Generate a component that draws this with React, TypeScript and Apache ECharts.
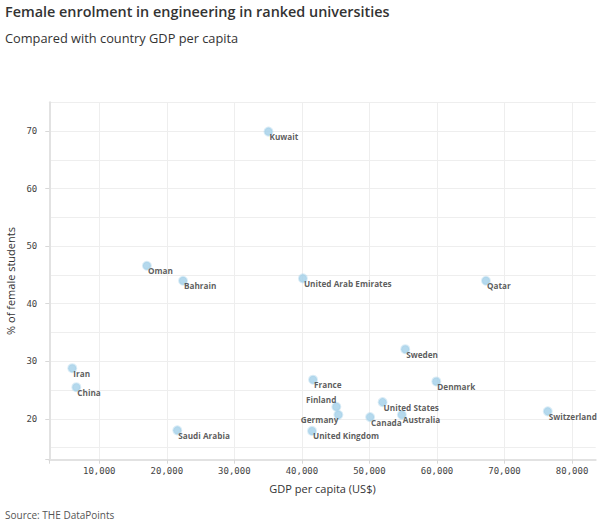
import React, { useEffect, useRef } from "react";
import * as echarts from "echarts";

const countries = [
  "Kuwait", "Oman", "Bahrain", "United Arab Emirates", "Qatar", "Sweden",
  "France", "Denmark", "Finland", "Germany", "United States", "Canada",
  "Australia", "United Kingdom", "Switzerland", "Iran", "China", "Saudi Arabia",
];
const gdpPerCapita = [
  35050, 17050, 22400, 40150, 67250, 55300,
  41650, 59900, 45100, 45400, 51950, 50100,
  54800, 41500, 76400, 6000, 6600, 21550,
];
const femaleShare = [
  69.9, 46.6, 44.0, 44.4, 44.0, 32.1,
  26.8, 26.5, 22.1, 20.7, 22.9, 20.3,
  20.7, 17.9, 21.3, 28.8, 25.5, 18.0,
];
const xTickValues = [10000, 20000, 30000, 40000, 50000, 60000, 70000, 80000];
const yLabelValues = [20, 30, 40, 50, 60, 70];
const yGridValues = [15, 20, 25, 30, 35, 40, 45, 50, 55, 60, 65, 70, 75];

const X_MIN = 2600;
const X_MAX = 83500;
const Y_MIN = 12.9;
const Y_MAX = 75;

const labelLeftAbove = new Set(["Finland"]);
const labelLeftBelow = new Set(["Germany"]);

export default function App() {
  const ref = useRef<HTMLDivElement>(null);
  useEffect(() => {
    if (!ref.current) return;
    const chart = echarts.init(ref.current, undefined, { renderer: "svg" });
    const font = "'Open Sans', 'Noto Sans', sans-serif";
    const mono = "'DejaVu Sans Mono', monospace";
    const data = countries.map((name, i) => {
      let position: any = [6, 10];
      let align = "left";
      if (labelLeftAbove.has(name)) {
        position = [5, -2];
        align = "right";
      } else if (labelLeftBelow.has(name)) {
        position = [5, 10];
        align = "right";
      }
      return {
        name,
        value: [gdpPerCapita[i], femaleShare[i]],
        label: { position, align },
      };
    });
    chart.setOption({
      animation: false,
      backgroundColor: "#ffffff",
      title: [
        {
          text: "Female enrolment in engineering in ranked universities",
          left: 5,
          top: 4,
          padding: 0,
          textStyle: { fontFamily: font, fontSize: 14.4, fontWeight: 600, color: "#333333" },
        },
        {
          text: "Compared with country GDP per capita",
          left: 5,
          top: 31,
          padding: 0,
          textStyle: { fontFamily: font, fontSize: 12.8, fontWeight: 400, color: "#333333" },
        },
        {
          text: "Source: THE DataPoints",
          left: 5,
          top: 510,
          padding: 0,
          textStyle: { fontFamily: font, fontSize: 10, fontWeight: 400, color: "#555555" },
        },
      ],
      grid: {
        left: 49.3,
        right: 14.3,
        top: 102.3,
        bottom: 70.3,
        containLabel: false,
        outerBoundsMode: "none",
      },
      xAxis: {
        type: "value",
        min: X_MIN,
        max: X_MAX,
        name: "GDP per capita (US$)",
        nameLocation: "middle",
        nameGap: 23,
        nameTextStyle: { fontFamily: font, fontSize: 11, color: "#333333" },
        axisLine: { show: true, lineStyle: { color: "#e2e2e2", width: 2 } },
        axisTick: {
          show: true,
          length: 4,
          customValues: [X_MIN, ...xTickValues],
          lineStyle: { color: "#d8d8d8", width: 1 },
        },
        axisLabel: {
          customValues: xTickValues,
          formatter: (v: number) => v.toLocaleString("en-US"),
          fontFamily: mono,
          fontSize: 9,
          color: "#444444",
          margin: 7,
        },
        splitLine: { show: true, lineStyle: { color: "#eeeeee", width: 1 } },
      },
      yAxis: [
        {
          type: "value",
          min: Y_MIN,
          max: Y_MAX,
          position: "left",
          axisLine: { show: true, lineStyle: { color: "#e2e2e2", width: 2 } },
          axisTick: { show: false, customValues: yGridValues },
          axisLabel: { show: false },
          splitLine: { show: true, lineStyle: { color: "#eeeeee", width: 1 } },
        },
        {
          type: "value",
          min: Y_MIN,
          max: Y_MAX,
          position: "left",
          name: "% of female students",
          nameLocation: "middle",
          nameGap: 33,
          nameRotate: 90,
          nameTextStyle: { fontFamily: font, fontSize: 11, color: "#333333" },
          axisLine: { show: false },
          axisTick: {
            show: true,
            length: 4,
            customValues: [Y_MIN, ...yLabelValues],
            lineStyle: { color: "#d8d8d8", width: 1 },
          },
          axisLabel: {
            customValues: yLabelValues,
            fontFamily: mono,
            fontSize: 9,
            color: "#444444",
            margin: 12,
          },
          splitLine: { show: false },
        },
      ],
      series: [
        {
          type: "scatter",
          yAxisIndex: 0,
          symbol: "circle",
          symbolSize: 8,
          itemStyle: {
            color: "#a3cfe8",
            borderColor: "rgba(163,207,232,0.5)",
            borderWidth: 2,
          },
          label: {
            show: true,
            formatter: "{b}",
            fontFamily: font,
            fontSize: 8.2,
            fontWeight: "bold",
            color: "#333333",
            verticalAlign: "middle",
          },
          emphasis: { disabled: true },
          data,
        },
      ],
    });
    return () => chart.dispose();
  }, []);
  return (
    <div
      ref={ref}
      style={{ position: "absolute", left: 0, top: 0, width: 610, height: 530 }}
    />
  );
}
